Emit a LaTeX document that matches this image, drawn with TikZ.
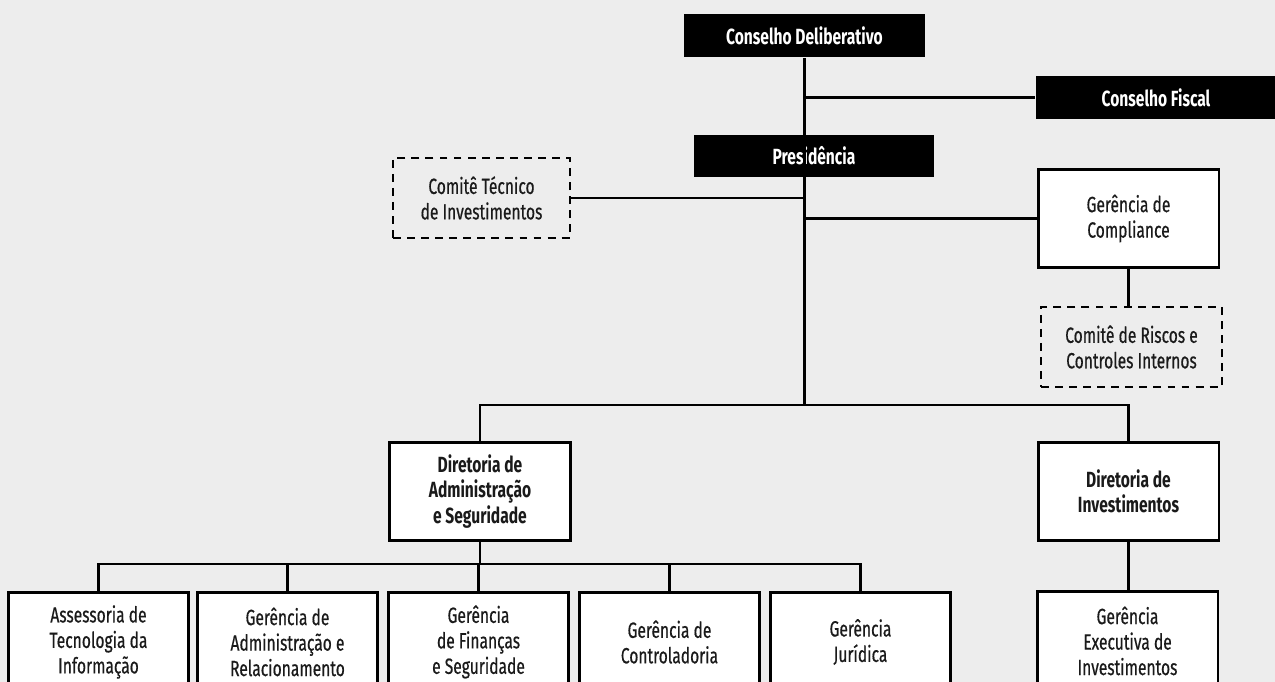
\documentclass[tikz,border=0pt]{standalone}
\usepackage{fontspec}
\setmainfont{Fira Sans}[FakeStretch=0.71,UprightFeatures={FakeBold=0.5}]
\usetikzlibrary{positioning}
\definecolor{paper}{HTML}{EDEDED}
\definecolor{ink}{HTML}{1A1A1A}
\begin{document}
\begin{tikzpicture}[x=0.02cm,y=-0.02cm,line width=1.7pt,
    every node/.style={align=center,inner sep=0pt,text=ink,font=\fontsize{12.5}{14.5}\selectfont},
    darkbox/.style={fill=black,text=white,font=\fontsize{12.5}{14.5}\selectfont\bfseries,minimum width=4.82cm,minimum height=0.86cm},
    unitbox/.style={draw,fill=white,minimum width=3.62cm,minimum height=1.98cm},
    headbox/.style={unitbox,font=\fontsize{12.5}{14.5}\selectfont\bfseries},
    lowbox/.style={unitbox,minimum height=2cm},
    dashbox/.style={draw,line width=1.1pt,dash pattern=on 4.5pt off 3.5pt,minimum width=3.62cm,minimum height=1.6cm}]
\useasboundingbox (0,0) rectangle (1275,682);
\fill[paper] (0,0) rectangle (1275,682);
\clip (0,0) rectangle (1275,682);

\node[darkbox] (cd) at (804.5,35.5) {Conselho Deliberativo};
\node[darkbox,minimum width=4.8cm] (cf) at (1156,97.5) {Conselho Fiscal};
\node[darkbox,minimum width=4.8cm] (pres) at (814,156) {Presidência};
\node[dashbox,minimum width=3.54cm] (cti) at (481.5,198) {Comitê Técnico\\de Investimentos};
\node[unitbox] (comp) at (1128.5,218.5) {Gerência de\\Compliance};
\node[dashbox] (crci) at (1131.5,347) {Comitê de Riscos e\\Controles Internos};
\node[headbox] (dadm) at (480,491.5) {Diretoria de\\Administração\\e Seguridade};
\node[headbox] (dinv) at (1128.5,491.5) {Diretoria de\\Investimentos};

% gerencias
\node[lowbox] (atec) at (98.5,642) {Assessoria de\\Tecnologia da\\Informação};
\node[lowbox] (gadm) at (287.5,642) {Gerência de\\Administração e\\Relacionamento};
\node[lowbox] (gfin) at (478.5,642) {Gerência\\de Finanças\\e Seguridade};
\node[lowbox] (gctl) at (669.5,642) {Gerência de\\Controladoria};
\node[lowbox] (gjur) at (860.5,642) {Gerência\\Jurídica};
\node[lowbox] (gexe) at (1127.5,641) {Gerência\\Executiva de\\Investimentos};

\coordinate (hub) at (805,405);
\coordinate (bus) at (480,564);

\draw (cd.south) -- (cd.south |- hub);
\draw (cd.south |- cf.west) -- (cf.west);
\draw (cti.east) -- (cti.east -| cd.south);
\draw (cd.south |- comp.west) -- (comp.west);
\draw (comp.south) -- (comp.south |- crci.north);
\draw (dadm.north) |- (hub) -| (dinv.north);
\draw (dadm.south) -- (bus);
\foreach \u in {atec,gadm,gfin,gctl,gjur}
  \draw (\u.north) |- (bus);
\draw (dinv.south) -- (dinv.south |- gexe.north);
\end{tikzpicture}
\end{document}
